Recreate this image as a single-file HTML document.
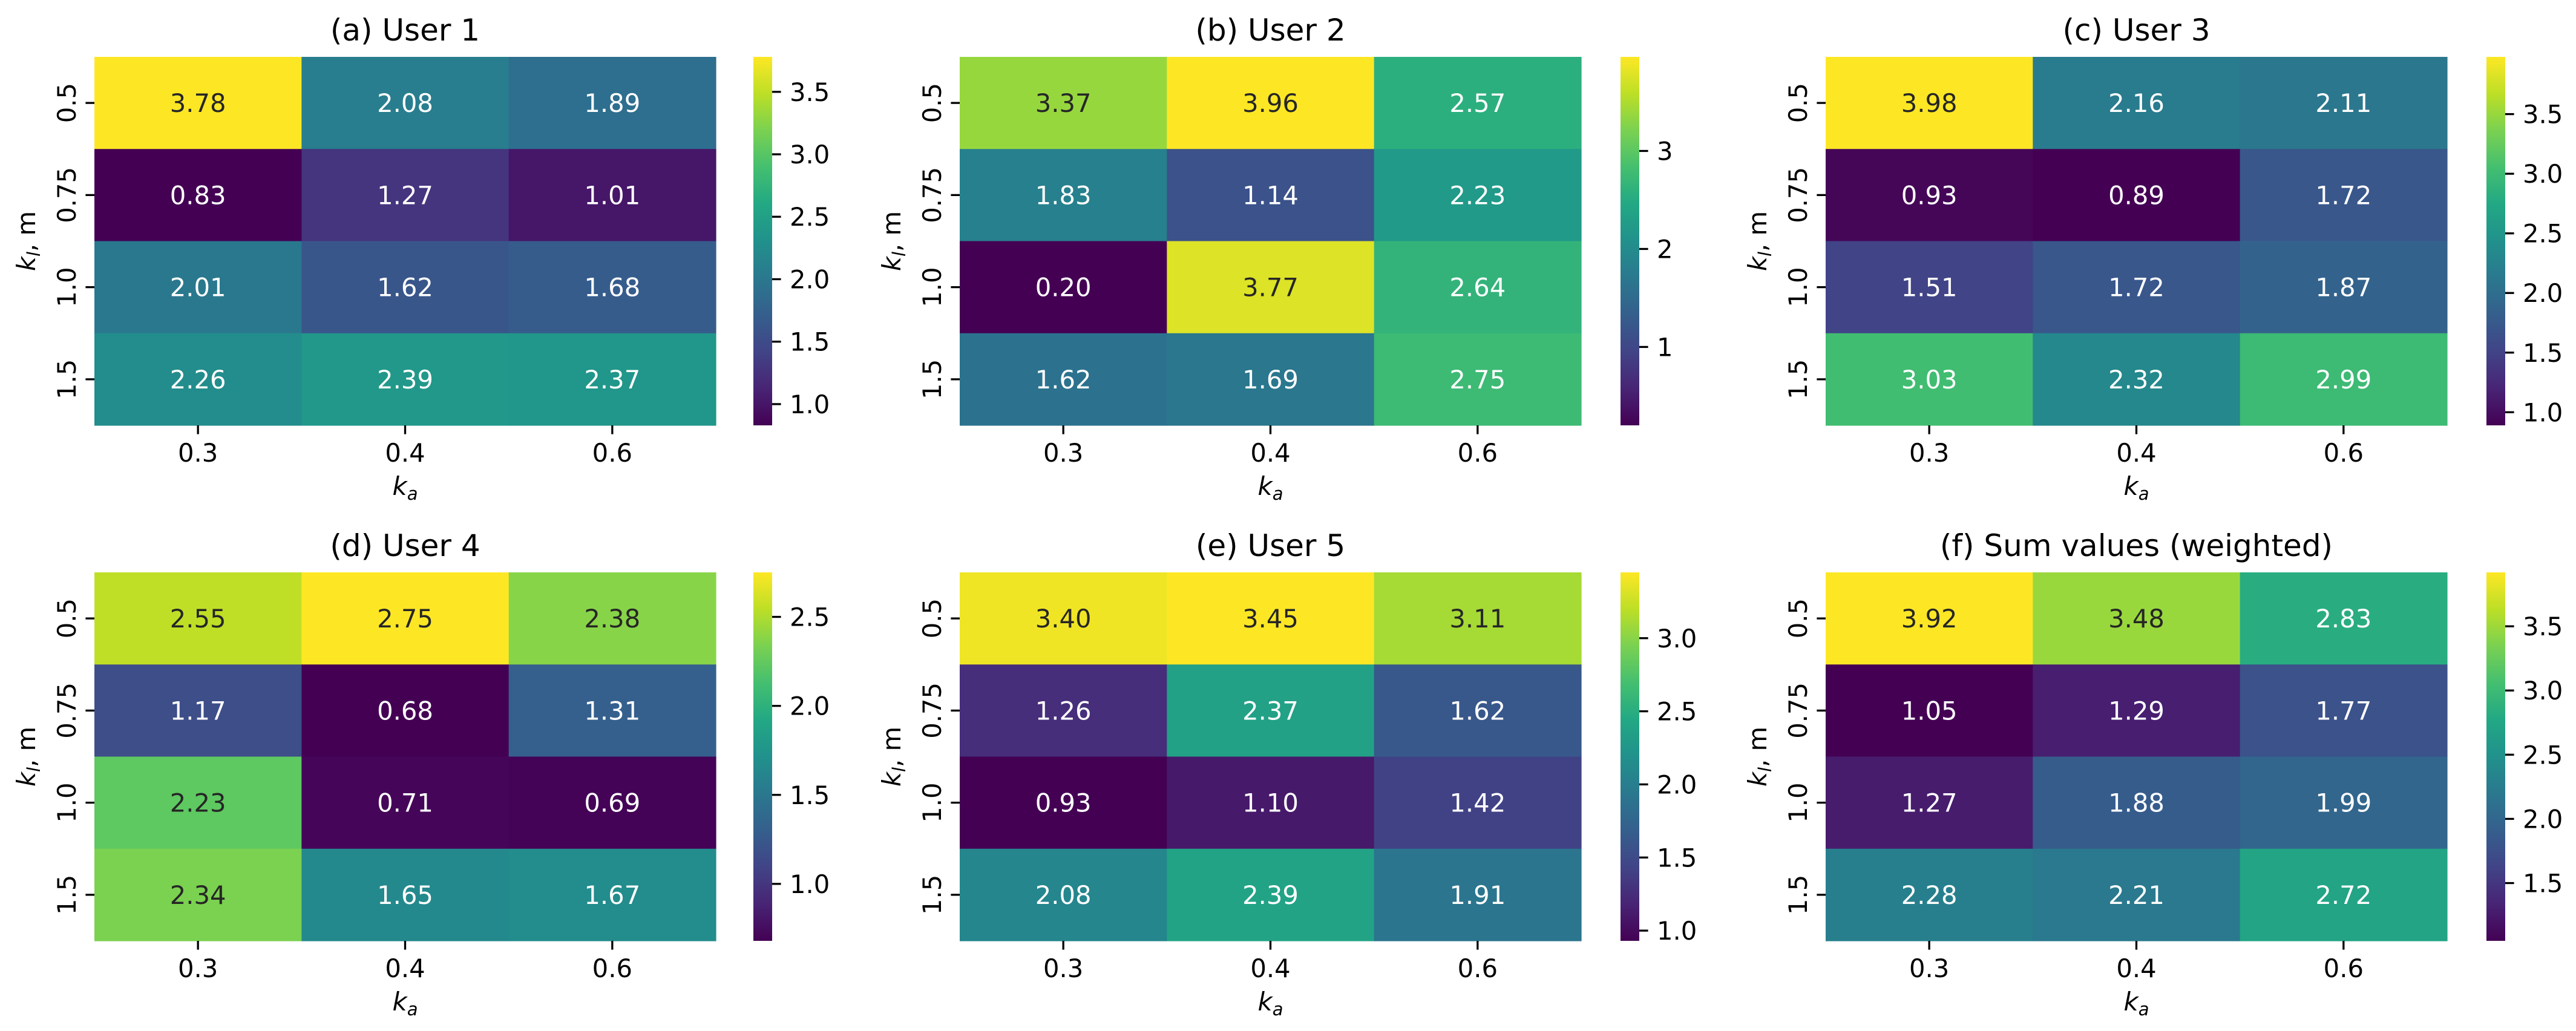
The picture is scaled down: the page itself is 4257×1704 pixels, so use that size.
<!DOCTYPE html>
<html><head><meta charset="utf-8">
<style>
html,body{margin:0;padding:0;background:#fff;}
svg{display:block;}
text{font-family:"DejaVu Sans","Liberation Sans",sans-serif;fill:#000;}
</style></head>
<body>
<svg id="fig" width="4257" height="1704" viewBox="0 0 4257 1704" xmlns="http://www.w3.org/2000/svg">
<defs>
<linearGradient id="vir" x1="0" y1="1" x2="0" y2="0">
<stop offset="0" stop-color="#440154"/><stop offset="0.1" stop-color="#482475"/><stop offset="0.2" stop-color="#414487"/><stop offset="0.3" stop-color="#355f8d"/><stop offset="0.4" stop-color="#2a788e"/><stop offset="0.5" stop-color="#21918c"/><stop offset="0.6" stop-color="#22a884"/><stop offset="0.7" stop-color="#44bf70"/><stop offset="0.8" stop-color="#7ad151"/><stop offset="0.9" stop-color="#bddf26"/><stop offset="1" stop-color="#fde725"/>
</linearGradient>
</defs>
</svg>
<script>
const titles = ["(a) User 1","(b) User 2","(c) User 3","(d) User 4","(e) User 5","(f) Sum values (weighted)"];
const xCats = ["0.3","0.4","0.6"];
const yCats = ["0.5","0.75","1.0","1.5"];
const user1 = [[3.78,2.08,1.89],[0.83,1.27,1.01],[2.01,1.62,1.68],[2.26,2.39,2.37]];
const user2 = [[3.37,3.96,2.57],[1.83,1.14,2.23],[0.20,3.77,2.64],[1.62,1.69,2.75]];
const user3 = [[3.98,2.16,2.11],[0.93,0.89,1.72],[1.51,1.72,1.87],[3.03,2.32,2.99]];
const user4 = [[2.55,2.75,2.38],[1.17,0.68,1.31],[2.23,0.71,0.69],[2.34,1.65,1.67]];
const user5 = [[3.40,3.45,3.11],[1.26,2.37,1.62],[0.93,1.10,1.42],[2.08,2.39,1.91]];
const sumWeighted = [[3.92,3.48,2.83],[1.05,1.29,1.77],[1.27,1.88,1.99],[2.28,2.21,2.72]];
const cbTicks1 = [1.0,1.5,2.0,2.5,3.0,3.5];
const cbTicks2 = [1,2,3];
const cbTicks3 = [1.0,1.5,2.0,2.5,3.0,3.5];
const cbTicks4 = [1.0,1.5,2.0,2.5];
const cbTicks5 = [1.0,1.5,2.0,2.5,3.0];
const cbTicks6 = [1.5,2.0,2.5,3.0,3.5];

const datasets=[user1,user2,user3,user4,user5,sumWeighted];
const tickSets=[cbTicks1,cbTicks2,cbTicks3,cbTicks4,cbTicks5,cbTicks6];
const tickFmt=[1,0,1,1,1,1];
const NS="http://www.w3.org/2000/svg";
const svg=document.getElementById('fig');
const VIR=["#440154","#482475","#414487","#355f8d","#2a788e","#21918c","#22a884","#44bf70","#7ad151","#bddf26","#fde725"];
function hex2rgb(h){return [parseInt(h.slice(1,3),16),parseInt(h.slice(3,5),16),parseInt(h.slice(5,7),16)];}
function viridis(t){t=Math.max(0,Math.min(1,t));const p=t*10;const i=Math.min(9,Math.floor(p));const f=p-i;const a=hex2rgb(VIR[i]),b=hex2rgb(VIR[i+1]);return a.map((v,k)=>Math.round(v+(b[k]-v)*f));}
function lum(c){const l=c.map(v=>{v/=255;return v<=0.03928?v/12.92:Math.pow((v+0.055)/1.055,2.4);});return 0.2126*l[0]+0.7152*l[1]+0.0722*l[2];}
function mk(tag,attrs,parent){const e=document.createElementNS(NS,tag);for(const k in attrs)e.setAttribute(k,attrs[k]);(parent||svg).appendChild(e);return e;}

const lefts=[156,1586,3017];
const cbLefts=[1245,2678,4109];
const tops=[94,946];
const W=1027,H=609,CBW=31;

datasets.forEach((data,pi)=>{
  const col=pi%3,row=Math.floor(pi/3);
  const x0=lefts[col],y0=tops[row];
  const g=mk('g',{});
  
  
  const flat=data.flat();
  const vmin=Math.min(...flat),vmax=Math.max(...flat);
  const cw=W/xCats.length,ch=H/yCats.length;
  const xs=i=>x0+i*cw, ys=j=>y0+j*ch;
  const t=mk('text',{x:x0+W/2,y:y0-27,'font-size':50,'text-anchor':'middle'},g);
  t.textContent=titles[pi];
  
  
  data.forEach((r,j)=>r.forEach((v,i)=>{
    const c=viridis((v-vmin)/(vmax-vmin));
    const rc=mk('rect',{x:xs(i),y:ys(j),width:cw+0.6,height:ch+0.6,fill:`rgb(${c[0]},${c[1]},${c[2]})`},g);
    
    
    const tx=mk('text',{x:xs(i)+cw/2,y:ys(j)+ch/2+15,'font-size':41.7,'text-anchor':'middle',fill:lum(c)>0.408?'#262626':'#ffffff'},g);
    tx.style.fill=lum(c)>0.408?'#262626':'#ffffff';
    tx.textContent=v.toFixed(2);
    
    
  }));
  xCats.forEach((lab,i)=>{
    const cx=xs(i)+cw/2;
    mk('line',{x1:cx,y1:y0+H,x2:cx,y2:y0+H+14.6,stroke:'#000','stroke-width':3.3},g);
    const tx=mk('text',{x:cx,y:y0+H+60,'font-size':41.7,'text-anchor':'middle'},g);
    tx.textContent=lab;
    
    
  });
  yCats.forEach((lab,j)=>{
    const cy=ys(j)+ch/2;
    mk('line',{x1:x0-14.6,y1:cy,x2:x0,y2:cy,stroke:'#000','stroke-width':3.3},g);
    const tx=mk('text',{x:x0-31,y:cy,'font-size':41.7,'text-anchor':'middle',transform:`rotate(-90 ${x0-31} ${cy})`},g);
    tx.textContent=lab;
    
    
  });
  const xl=mk('text',{x:x0+W/2,y:y0+H+115,'font-size':41.7,'text-anchor':'middle'},g);
  xl.innerHTML='<tspan font-style="italic">k</tspan><tspan font-style="italic" font-size="29" dy="8">a</tspan>';
  
  
  const ylx=x0-98,yly=y0+H/2;
  const yl=mk('text',{x:ylx,y:yly,'font-size':41.7,'text-anchor':'middle',transform:`rotate(-90 ${ylx} ${yly})`},g);
  yl.innerHTML='<tspan font-style="italic">k</tspan><tspan font-style="italic" font-size="29" dy="8">l</tspan><tspan dy="-8">, m</tspan>';
  
  
  // colorbar
  const cbx=cbLefts[col];
  const cb=mk('rect',{x:cbx,y:y0,width:CBW,height:H,fill:'url(#vir)'},g);
  
  
  const cy=v=>y0+H-(v-vmin)/(vmax-vmin)*H;
  tickSets[pi].forEach(v=>{
    const yy=cy(v);
    mk('line',{x1:cbx+CBW,y1:yy,x2:cbx+CBW+14.6,y2:yy,stroke:'#000','stroke-width':3.3},g);
    const tx=mk('text',{x:cbx+CBW+29,y:yy+15,'font-size':41.7},g);
    tx.textContent=v.toFixed(tickFmt[pi]);
    
    
  });
});
</script>
</body></html>
